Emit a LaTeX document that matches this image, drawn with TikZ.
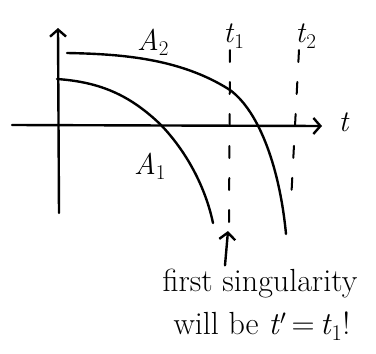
\documentclass[tikz,border=0pt]{standalone}
\usetikzlibrary{arrows.meta}
\newcommand{\itsub}[2]{\textit{#1}\textsubscript{#2}}

\begin{document}
\begin{tikzpicture}[x=1pt,y=-1pt,line width=2.4pt,line cap=round,
    barb/.style={-{Straight Barb[length=7pt,width=16pt]}},
    guide/.style={line width=2pt,dash pattern=on 12pt off 20pt},
    lbl/.style={font=\fontsize{30}{32}\selectfont,inner sep=0pt},
    notefont/.style={font=\fontsize{32}{35}\selectfont,inner sep=0pt,anchor=base}]
            \useasboundingbox (0,0) rectangle (376,354);
            \coordinate (ybot) at (59,213);
            \coordinate (ytop) at (58,28);
            \coordinate (xl) at (12,125);
            \coordinate (xr) at (322,126);
            \draw[barb] (ybot) -- (ytop);
            \draw[barb] (xl) -- (xr);
            \node[lbl] (tax) at (344,122) {\textit{t}};
            \draw (67,53) .. controls (120,54) and (180,58) .. (230,90)
                  .. controls (260,112) and (280,170) .. (286,234);
            \draw (57,79) .. controls (100,82) and (130,95) .. (161,125)
                  .. controls (185,150) and (205,185) .. (213,223);
            \draw[guide] (230,50) -- (229,222);
            \draw[guide] (299,50) -- (291,202);
            \node[lbl] (atwo) at (153,42) {\itsub{A}{2}};
            \node[lbl] (aone) at (150,166) {\itsub{A}{1}};
            \node[lbl] (tone) at (234,36) {\itsub{t}{1}};
            \node[lbl] (ttwo) at (306,36) {\itsub{t}{2}};
            \node[notefont] (first) at (260,291) {first singularity};
            \node[notefont] (willbe) at (262,334) {will be \textit{t}$'$\,=\,\itsub{t}{1}!};
            \coordinate (hit) at (228,231);
            \draw[barb] (first.north -| hit) ++(-3,-2) -- (hit);
\end{tikzpicture}
\end{document}
